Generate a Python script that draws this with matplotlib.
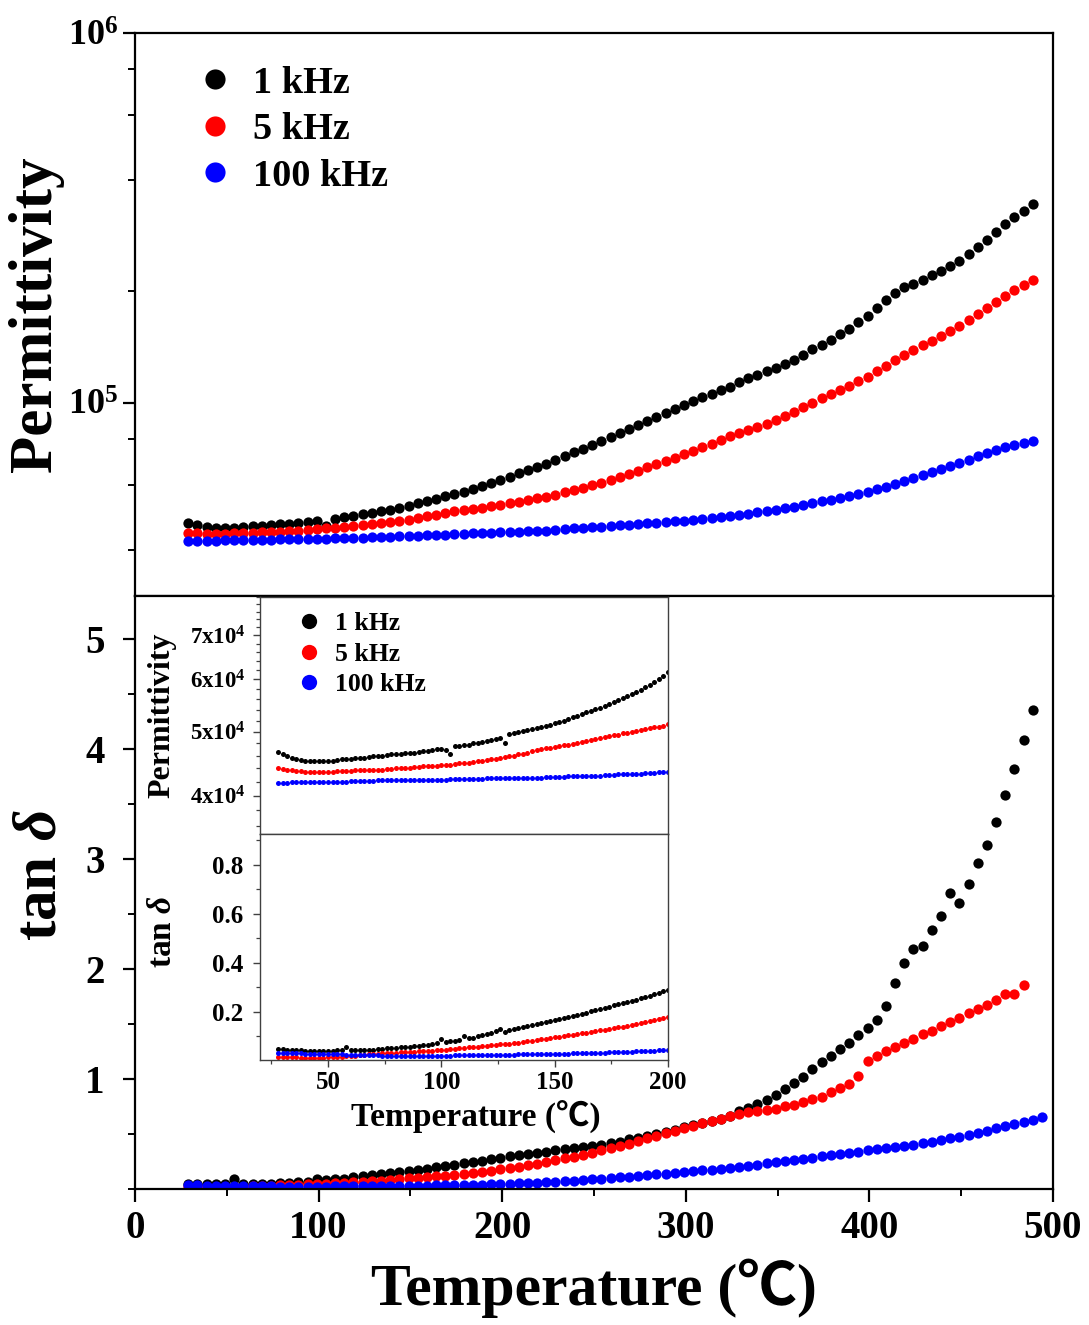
import numpy as np
import matplotlib
matplotlib.use("Agg")
import matplotlib.pyplot as plt
from matplotlib.ticker import FixedLocator, FuncFormatter, NullFormatter, LogLocator, MultipleLocator
from matplotlib.lines import Line2D

plt.rcParams['font.family'] = ['Liberation Serif', 'Noto Sans CJK SC', 'DejaVu Serif']
plt.rcParams['font.weight'] = 'bold'
plt.rcParams['mathtext.fontset'] = 'custom'
plt.rcParams['mathtext.rm'] = 'Liberation Serif:bold'
plt.rcParams['mathtext.it'] = 'Liberation Serif:italic:bold'
plt.rcParams['mathtext.bf'] = 'Liberation Serif:bold'

# ---------------- data ----------------
series_labels = ["1 kHz", "5 kHz", "100 kHz"]
series_colors = ["#000000", "#ff0000", "#0000ff"]

# main plot temperatures (deg C)
temp_main = np.arange(29, 495, 5)

# permittivity (x1e3), main plot
perm_1k = [47.3, 46.6, 46.2, 45.9, 45.8, 45.9, 46.1, 46.3, 46.5, 46.7,
           46.9, 47.1, 47.3, 47.5, 47.8, 46.5, 48.5, 49.0, 49.4, 49.9,
           50.4, 50.9, 51.4, 51.9, 52.6, 53.4, 54.2, 55.0, 55.8, 56.6,
           57.5, 58.5, 59.6, 60.7, 61.9, 63.1, 64.4, 65.7, 67.0, 68.4,
           70.0, 71.7, 73.4, 75.1, 76.9, 78.8, 80.7, 82.8, 84.9, 87.1,
           89.3, 91.6, 94.0, 96.3, 98.6, 100.9, 103.3, 105.7, 108.0, 110.6,
           113.5, 116.4, 119.0, 121.6, 124.3, 127.3, 130.6, 134.2, 139.5, 143.5,
           148.0, 153.0, 158.5, 165.0, 172.0, 180.0, 189.0, 198.0, 205.0, 210.0,
           215.0, 221.0, 227.0, 234.0, 242.0, 252.0, 263.0, 276.0, 290.0, 304.0,
           318.0, 330.0, 345.0]
perm_5k = [44.5, 44.3, 44.2, 44.2, 44.2, 44.3, 44.4, 44.5, 44.6, 44.7,
           44.8, 44.9, 45.1, 45.3, 45.5, 45.7, 45.9, 46.1, 46.4, 46.7,
           47.0, 47.3, 47.6, 47.9, 48.3, 48.8, 49.3, 49.8, 50.3, 50.8,
           51.2, 51.6, 52.0, 52.4, 52.9, 53.4, 53.9, 54.5, 55.1, 55.7,
           56.4, 57.2, 58.0, 58.9, 59.8, 60.8, 61.8, 63.0, 64.2, 65.5,
           66.8, 68.1, 69.5, 71.0, 72.6, 74.2, 75.8, 77.4, 79.2, 81.2,
           83.0, 84.6, 86.0, 87.8, 89.8, 92.0, 94.5, 97.2, 100.0, 102.7,
           105.5, 108.4, 111.3, 114.4, 117.5, 121.5, 126.0, 130.5, 135.0, 139.0,
           143.0, 147.0, 151.5, 156.0, 161.0, 167.0, 173.5, 180.5, 187.5, 194.5,
           201.5, 208.0, 214.5]
perm_100k = [42.2, 42.2, 42.3, 42.3, 42.4, 42.4, 42.5, 42.5, 42.6, 42.6,
             42.7, 42.7, 42.8, 42.8, 42.9, 42.9, 43.0, 43.0, 43.1, 43.1,
             43.2, 43.3, 43.4, 43.5, 43.6, 43.7, 43.8, 43.9, 44.0, 44.1,
             44.2, 44.3, 44.4, 44.5, 44.6, 44.7, 44.8, 44.9, 45.0, 45.1,
             45.3, 45.5, 45.7, 45.8, 46.0, 46.2, 46.4, 46.6, 46.8, 47.0,
             47.2, 47.4, 47.6, 47.8, 48.0, 48.2, 48.5, 48.8, 49.1, 49.5,
             49.8, 50.1, 50.5, 50.9, 51.3, 51.8, 52.3, 52.9, 53.5, 54.1,
             54.7, 55.3, 56.0, 56.7, 57.5, 58.4, 59.3, 60.3, 61.3, 62.4,
             63.6, 64.8, 66.1, 67.4, 68.8, 70.2, 71.7, 73.1, 74.5, 75.8,
             76.9, 77.8, 78.6]

# tan delta, main plot
tan_1k = [0.048, 0.045, 0.043, 0.042, 0.042, 0.09, 0.043, 0.043, 0.045, 0.048,
          0.053, 0.057, 0.061, 0.066, 0.09, 0.08, 0.088, 0.095, 0.105, 0.12,
          0.125, 0.133, 0.142, 0.152, 0.164, 0.175, 0.186, 0.199, 0.21, 0.222,
          0.235, 0.247, 0.259, 0.272, 0.285, 0.297, 0.31, 0.32, 0.33, 0.34,
          0.35, 0.36, 0.37, 0.38, 0.39, 0.40, 0.42, 0.43, 0.45, 0.46,
          0.48, 0.50, 0.52, 0.54, 0.56, 0.58, 0.60, 0.62, 0.64, 0.66,
          0.71, 0.74, 0.77, 0.81, 0.85, 0.91, 0.96, 1.02, 1.09, 1.15,
          1.21, 1.27, 1.33, 1.40, 1.46, 1.54, 1.66, 1.87, 2.05, 2.18,
          2.21, 2.35, 2.48, 2.69, 2.60, 2.77, 2.96, 3.13, 3.34, 3.58,
          3.82, 4.08, 4.35]
tan_5k = [0.018, 0.016, 0.014, 0.014, 0.015, 0.017, 0.020, 0.024, 0.028, 0.031,
          0.033, 0.036, 0.039, 0.042, 0.045, 0.048, 0.053, 0.057, 0.061, 0.066,
          0.070, 0.075, 0.081, 0.088, 0.096, 0.100, 0.107, 0.116, 0.122, 0.130,
          0.138, 0.146, 0.156, 0.166, 0.178, 0.190, 0.200, 0.215, 0.230, 0.245,
          0.26, 0.28, 0.295, 0.31, 0.33, 0.35, 0.37, 0.39, 0.41, 0.435,
          0.46, 0.48, 0.505, 0.525, 0.55, 0.575, 0.60, 0.62, 0.64, 0.66,
          0.68, 0.70, 0.71, 0.72, 0.73, 0.75, 0.76, 0.79, 0.82, 0.84,
          0.88, 0.92, 0.95, 1.03, 1.16, 1.21, 1.25, 1.29, 1.33, 1.36,
          1.41, 1.44, 1.48, 1.52, 1.55, 1.60, 1.64, 1.67, 1.72, 1.77,
          1.77, 1.85]
tan_100k = [0.034, 0.032, 0.030, 0.030, 0.029, 0.027, 0.026, 0.025, 0.024, 0.023,
            0.022, 0.022, 0.022, 0.022, 0.022, 0.022, 0.023, 0.023, 0.024, 0.025,
            0.026, 0.027, 0.027, 0.028, 0.029, 0.030, 0.031, 0.032, 0.034, 0.035,
            0.037, 0.039, 0.040, 0.042, 0.045, 0.048, 0.051, 0.055, 0.059, 0.063,
            0.068, 0.072, 0.077, 0.082, 0.088, 0.094, 0.100, 0.106, 0.112, 0.118,
            0.125, 0.132, 0.139, 0.146, 0.153, 0.161, 0.169, 0.177, 0.186, 0.195,
            0.204, 0.213, 0.222, 0.232, 0.242, 0.253, 0.264, 0.275, 0.286, 0.297,
            0.308, 0.319, 0.33, 0.34, 0.35, 0.36, 0.37, 0.38, 0.39, 0.40,
            0.415, 0.43, 0.445, 0.46, 0.475, 0.49, 0.51, 0.53, 0.55, 0.57,
            0.59, 0.61, 0.63, 0.65]

# inset temperatures (deg C)
temp_inset = np.arange(28, 201, 2)

inset_perm_1k = [46.6, 46.3, 46.0, 45.7, 45.5, 45.3, 45.2, 45.1, 45.1, 45.1,
                 45.1, 45.1, 45.2, 45.3, 45.4, 45.5, 45.5, 45.6, 45.6, 45.7,
                 45.8, 45.9, 46.0, 46.0, 46.1, 46.2, 46.3, 46.2, 46.5, 46.4,
                 46.5, 46.6, 46.7, 46.8, 46.9, 47.0, 47.1, 46.9, 46.3, 47.5,
                 47.6, 47.7, 47.8, 48.0, 48.1, 48.3, 48.4, 48.6, 48.8, 49.0,
                 48.0, 49.6, 49.7, 49.9, 50.1, 50.3, 50.5, 50.7, 50.8, 51.0,
                 51.2, 51.5, 51.7, 52.0, 52.3, 52.6, 52.9, 53.2, 53.5, 53.8,
                 54.1, 54.4, 54.7, 55.1, 55.5, 55.9, 56.3, 56.7, 57.1, 57.5,
                 57.9, 58.4, 58.9, 59.5, 60.1, 60.8, 61.5]
inset_perm_5k = [44.0, 43.9, 43.8, 43.7, 43.6, 43.6, 43.5, 43.5, 43.5, 43.5,
                 43.5, 43.5, 43.5, 43.6, 43.6, 43.6, 43.6, 43.7, 43.7, 43.7,
                 43.7, 43.8, 43.8, 43.8, 43.9, 43.9, 44.0, 44.0, 44.1, 44.1,
                 44.2, 44.2, 44.3, 44.3, 44.4, 44.4, 44.5, 44.5, 44.6, 44.7,
                 44.8, 44.8, 44.9, 45.0, 45.1, 45.2, 45.3, 45.4, 45.5, 45.6,
                 45.8, 45.9, 46.0, 46.2, 46.3, 46.5, 46.7, 46.9, 47.0, 47.2,
                 47.3, 47.4, 47.5, 47.7, 47.8, 47.9, 48.1, 48.2, 48.4, 48.6,
                 48.7, 48.9, 49.1, 49.2, 49.4, 49.5, 49.7, 49.8, 50.0, 50.2,
                 50.3, 50.5, 50.6, 50.8, 50.9, 51.1, 51.3]
inset_perm_100k = [41.8, 41.8, 41.8, 41.9, 41.9, 41.9, 41.9, 41.9, 41.9, 42.0,
                   42.0, 42.0, 42.0, 42.0, 42.0, 42.0, 42.1, 42.1, 42.1, 42.1,
                   42.1, 42.1, 42.2, 42.2, 42.2, 42.2, 42.2, 42.2, 42.2, 42.2,
                   42.3, 42.3, 42.3, 42.3, 42.3, 42.3, 42.3, 42.3, 42.4, 42.4,
                   42.4, 42.4, 42.4, 42.4, 42.4, 42.4, 42.5, 42.5, 42.5, 42.5,
                   42.5, 42.5, 42.5, 42.5, 42.6, 42.6, 42.6, 42.6, 42.6, 42.7,
                   42.7, 42.7, 42.7, 42.7, 42.8, 42.8, 42.8, 42.8, 42.8, 42.9,
                   42.9, 42.9, 43.0, 43.0, 43.0, 43.1, 43.1, 43.1, 43.2, 43.2,
                   43.2, 43.3, 43.3, 43.3, 43.4, 43.4, 43.4]

inset_tan_1k = [0.048, 0.047, 0.046, 0.045, 0.044, 0.043, 0.042, 0.042, 0.042, 0.042,
                0.042, 0.042, 0.042, 0.043, 0.043, 0.056, 0.043, 0.043, 0.044, 0.044,
                0.045, 0.045, 0.047, 0.049, 0.051, 0.052, 0.054, 0.055, 0.056, 0.058,
                0.060, 0.062, 0.064, 0.067, 0.069, 0.072, 0.090, 0.078, 0.080, 0.082,
                0.085, 0.100, 0.094, 0.095, 0.100, 0.105, 0.110, 0.116, 0.121, 0.132,
                0.120, 0.125, 0.129, 0.133, 0.137, 0.141, 0.145, 0.149, 0.155, 0.158,
                0.162, 0.166, 0.170, 0.174, 0.178, 0.182, 0.187, 0.192, 0.197, 0.202,
                0.207, 0.212, 0.217, 0.222, 0.227, 0.231, 0.235, 0.240, 0.245, 0.250,
                0.255, 0.260, 0.266, 0.272, 0.278, 0.284, 0.290]
inset_tan_5k = [0.018, 0.017, 0.016, 0.015, 0.015, 0.014, 0.014, 0.014, 0.014, 0.014,
                0.014, 0.015, 0.016, 0.017, 0.018, 0.019, 0.021, 0.022, 0.024, 0.026,
                0.028, 0.029, 0.030, 0.031, 0.032, 0.033, 0.034, 0.035, 0.036, 0.037,
                0.038, 0.039, 0.040, 0.041, 0.042, 0.043, 0.045, 0.046, 0.048, 0.050,
                0.052, 0.054, 0.055, 0.057, 0.059, 0.061, 0.062, 0.064, 0.066, 0.068,
                0.069, 0.071, 0.073, 0.075, 0.078, 0.080, 0.083, 0.085, 0.088, 0.090,
                0.093, 0.096, 0.098, 0.101, 0.104, 0.107, 0.110, 0.113, 0.116, 0.119,
                0.122, 0.125, 0.128, 0.131, 0.134, 0.137, 0.140, 0.144, 0.148, 0.152,
                0.156, 0.160, 0.164, 0.168, 0.172, 0.176, 0.181]
inset_tan_100k = [0.034, 0.033, 0.032, 0.032, 0.031, 0.031, 0.030, 0.030, 0.030, 0.029,
                  0.029, 0.029, 0.028, 0.027, 0.027, 0.026, 0.026, 0.025, 0.025, 0.024,
                  0.024, 0.023, 0.023, 0.022, 0.022, 0.022, 0.022, 0.022, 0.022, 0.022,
                  0.022, 0.022, 0.022, 0.022, 0.022, 0.022, 0.022, 0.022, 0.022, 0.023,
                  0.023, 0.023, 0.023, 0.024, 0.024, 0.024, 0.024, 0.025, 0.025, 0.025,
                  0.026, 0.026, 0.026, 0.027, 0.027, 0.027, 0.028, 0.028, 0.028, 0.029,
                  0.029, 0.029, 0.030, 0.030, 0.030, 0.031, 0.031, 0.032, 0.032, 0.033,
                  0.033, 0.034, 0.034, 0.035, 0.035, 0.036, 0.037, 0.037, 0.038, 0.039,
                  0.039, 0.040, 0.041, 0.042, 0.043, 0.044, 0.045]

main_xticks = [0, 100, 200, 300, 400, 500]
tan_yticks = [1, 2, 3, 4, 5]
inset_xticks = [50, 100, 150, 200]
inset_perm_ticks = [40000, 50000, 60000, 70000]
inset_tan_ticks = [0.2, 0.4, 0.6, 0.8]

# ---------------- figure ----------------
W, H = 1089, 1325
fig = plt.figure(figsize=(W / 100, H / 100), dpi=100)


def fx(px):
    return px / W


def fy(py):
    return 1 - py / H


L, R = 135, 1053
ax_top = fig.add_axes([fx(L), fy(596), fx(R - L), fy(33) - fy(596)])
ax_bot = fig.add_axes([fx(L), fy(1189), fx(R - L), fy(596) - fy(1189)])

perm_main = [perm_1k, perm_5k, perm_100k]
tan_main = [tan_1k, tan_5k, tan_100k]

for vals, c in zip(perm_main, series_colors):
    ax_top.plot(temp_main[:len(vals)], np.array(vals) * 1e3, 'o', color=c,
                ms=7.4, mec='none', ls='none')
for vals, c in zip(tan_main, series_colors):
    ax_bot.plot(temp_main[:len(vals)], vals, 'o', color=c,
                ms=7.4, mec='none', ls='none')

for ax in (ax_top, ax_bot):
    ax.set_xlim(0, 500)
    for s in ax.spines.values():
        s.set_linewidth(1.6)

ax_top.set_yscale('log')
ax_top.set_ylim(3e4, 1e6)
ax_top.yaxis.set_major_locator(FixedLocator([1e5, 1e6]))
ax_top.yaxis.set_major_formatter(FuncFormatter(
    lambda v, p: r'$\mathbf{10^{%d}}$' % int(round(np.log10(v)))))
ax_top.yaxis.set_minor_locator(LogLocator(base=10, subs=(2, 4, 6, 8)))
ax_top.yaxis.set_minor_formatter(NullFormatter())
ax_top.tick_params(axis='x', which='both', bottom=False, labelbottom=False)
ax_top.tick_params(axis='y', which='major', direction='out', length=9, width=1.6,
                   labelsize=26, pad=3)
ax_top.tick_params(axis='y', which='minor', direction='out', length=5, width=1.4)
ax_top.set_ylabel('Permittivity', fontsize=44, fontweight='bold')
ax_top.yaxis.set_label_coords(-0.077, 0.5)

ax_bot.set_ylim(0, 5.39)
ax_bot.set_xticks(main_xticks)
ax_bot.xaxis.set_minor_locator(MultipleLocator(50))
ax_bot.set_yticks(tan_yticks)
ax_bot.yaxis.set_minor_locator(MultipleLocator(0.5))
ax_bot.tick_params(axis='both', which='major', direction='out', length=9, width=1.6,
                   labelsize=28)
ax_bot.tick_params(axis='both', which='minor', direction='out', length=5, width=1.4)
ax_bot.tick_params(axis='y', which='major', pad=13)
ax_bot.tick_params(axis='x', which='major', pad=6)
ax_bot.set_ylabel(r'tan $\delta$', fontsize=44, fontweight='bold')
ax_bot.yaxis.set_label_coords(-0.072, 0.53)
ax_bot.set_xlabel('Temperature (℃)', fontsize=43, fontweight='bold')
ax_bot.xaxis.set_label_coords(0.5, -0.118)

handles = [Line2D([], [], marker='o', ls='none', color=c, mec='none', ms=14.5)
           for c in series_colors]
ax_top.legend(handles, series_labels, loc='upper left',
              bbox_to_anchor=((196 - L) / (R - L), 0.942), frameon=False,
              fontsize=27.5, handlelength=1.0, handletextpad=0.5,
              labelspacing=0.30, borderpad=0, borderaxespad=0)

# ---------------- inset ----------------
IL, IR = 260, 668
ins_perm = fig.add_axes([fx(IL), fy(834), fx(IR - IL), fy(597) - fy(834)])
ins_tan = fig.add_axes([fx(IL), fy(1060), fx(IR - IL), fy(834) - fy(1060)])

inset_perm = [inset_perm_1k, inset_perm_5k, inset_perm_100k]
inset_tan = [inset_tan_1k, inset_tan_5k, inset_tan_100k]
for vals, c in zip(inset_perm, series_colors):
    ins_perm.plot(temp_inset, np.array(vals) * 1e3, 'o', color=c, ms=3.6,
                  mec='none', ls='none')
for vals, c in zip(inset_tan, series_colors):
    ins_tan.plot(temp_inset, vals, 'o', color=c, ms=3.6, mec='none', ls='none')

for ax in (ins_perm, ins_tan):
    ax.set_facecolor('white')
    ax.set_xlim(20, 200)
    for s in ax.spines.values():
        s.set_linewidth(1.0)
        s.set_color('#404040')
    ax.tick_params(axis='both', which='major', direction='out', length=5,
                   width=1.0, color='#404040', labelsize=18, pad=7)
    ax.tick_params(axis='both', which='minor', direction='out', length=3,
                   width=0.9, color='#404040')

ins_perm.set_yscale('log')
ins_perm.set_ylim(35000, 80000)
ins_perm.yaxis.set_major_locator(FixedLocator(inset_perm_ticks))
ins_perm.yaxis.set_major_formatter(FuncFormatter(
    lambda v, p: r'%dx10$^{4}$' % int(round(v / 1e4))))
ins_perm.yaxis.set_minor_locator(FixedLocator(np.arange(36000, 80001, 2000)))
ins_perm.yaxis.set_minor_formatter(NullFormatter())
ins_perm.tick_params(axis='x', which='both', bottom=False, labelbottom=False)
ins_perm.tick_params(axis='y', which='major', labelsize=16.5, pad=5)
ins_perm.set_ylabel('Permittivity', fontsize=23, fontweight='bold')
ins_perm.yaxis.set_label_coords(-0.205, 0.5)

ins_tan.set_ylim(0.004, 0.925)
ins_tan.set_yticks(inset_tan_ticks)
ins_tan.yaxis.set_minor_locator(MultipleLocator(0.1))
ins_tan.set_xticks(inset_xticks)
ins_tan.xaxis.set_minor_locator(MultipleLocator(25))
ins_tan.tick_params(axis='x', which='major', pad=3)
ins_tan.set_ylabel(r'tan $\delta$', fontsize=24, fontweight='bold')
ins_tan.yaxis.set_label_coords(-0.2, 0.57)
ins_tan.set_xlabel('Temperature (℃)', fontsize=24, fontweight='bold', labelpad=0)
ins_tan.xaxis.set_label_coords(0.53, -0.175)

ins_handles = [Line2D([], [], marker='o', ls='none', color=c, mec='none', ms=11)
               for c in series_colors]
ins_perm.legend(ins_handles, series_labels, loc='upper left',
                bbox_to_anchor=((299 - IL) / (IR - IL), 0.937), frameon=False,
                fontsize=18.5, handlelength=0.8, handletextpad=0.6,
                labelspacing=0.30, borderpad=0, borderaxespad=0)

fig.savefig('out.png', dpi=100)
